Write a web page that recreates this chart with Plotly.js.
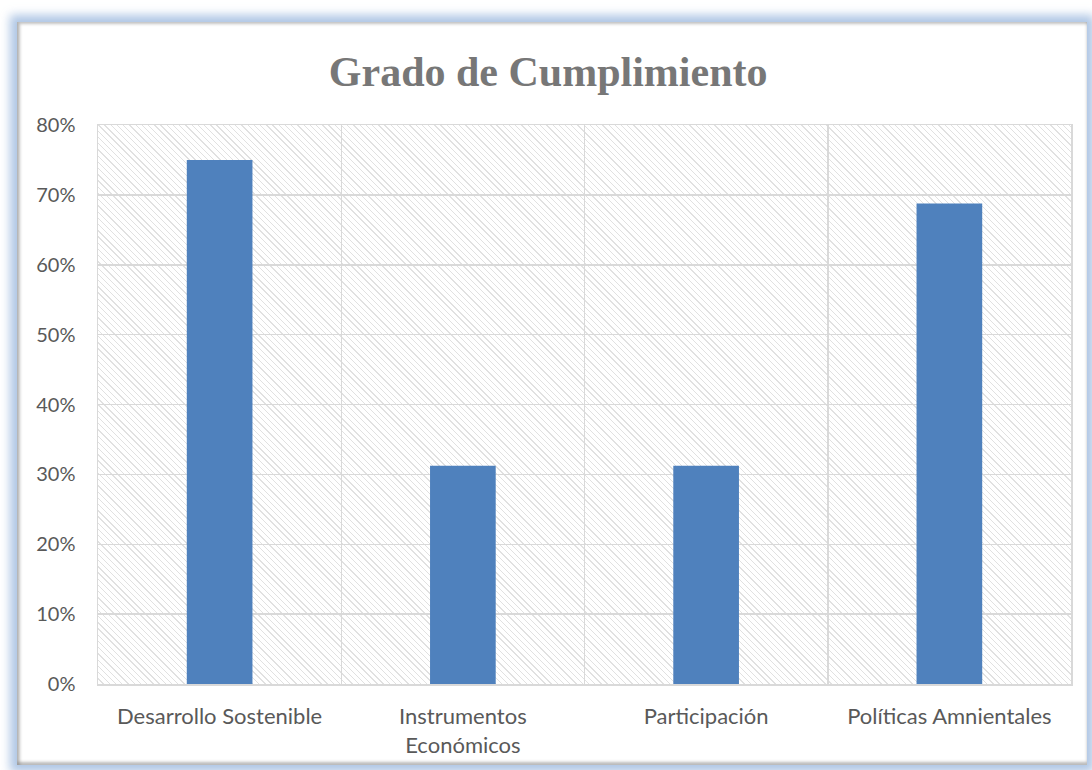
<!DOCTYPE html>
<html>
<head>
<meta charset="utf-8">
<script src="https://cdn.plot.ly/plotly-3.0.1.min.js"></script>
<style>
  html, body { margin: 0; padding: 0; background: #ffffff; width: 1092px; height: 770px; overflow: hidden; }
  #frame { position: absolute; left: 17px; top: 22px; width: 1070px; height: 743px;
           background: #ffffff;
           box-shadow: 0 0 9px 7px rgba(150,180,220,0.75), inset 3px 2px 3px rgba(120,120,120,0.45), inset 0 -3px 3px rgba(120,120,120,0.5); }
  #hatch { position: absolute;
           background: repeating-linear-gradient(45deg, #ffffff 0px, #ffffff 3.5px, #e1e1e1 3.5px, #e1e1e1 4.4px); }
  #chart { position: absolute; left: 0; top: 0; width: 1092px; height: 770px; }
</style>
</head>
<body>
<div id="frame"></div>
<div id="hatch"></div>
<div id="chart"></div>
<script>
const categories = ["Desarrollo Sostenible", "Instrumentos<br>Económicos", "Participación", "Políticas Amnientales"];
const values = [0.75, 0.3125, 0.3125, 0.6875];
const yTickVals = [0, 0.1, 0.2, 0.3, 0.4, 0.5, 0.6, 0.7, 0.8];
const yTickText = ["0%", "10%", "20%", "30%", "40%", "50%", "60%", "70%", "80%"];
const yMax = 0.8;

const W = 1092, H = 770;
const margin = { l: 98, r: 21, t: 125, b: 86 };

// hatched plot-area background sits behind the transparent plot area
const hatch = document.getElementById("hatch");
hatch.style.left = margin.l + "px";
hatch.style.top = margin.t + "px";
hatch.style.width = (W - margin.l - margin.r) + "px";
hatch.style.height = (H - margin.t - margin.b) + "px";

const bars = {
  type: "bar",
  x: categories,
  y: values,
  width: 0.27,
  marker: { color: "#4f81bd", line: { width: 0 } },
  showlegend: false
};

const layout = {
  width: W,
  height: H,
  margin: margin,
  paper_bgcolor: "rgba(0,0,0,0)",
  plot_bgcolor: "rgba(0,0,0,0)",
  title: {
    text: "<b>Grado de Cumplimiento</b>",
    font: { family: "Liberation Serif, DejaVu Serif, serif", size: 42, color: "#777777" },
    x: 0.502, xanchor: "center", y: 0.907, yanchor: "middle"
  },
  xaxis: {
    type: "category",
    tickson: "boundaries",
    showgrid: true,
    gridcolor: "#d9d9d9",
    gridwidth: 1.5,
    showline: true,
    linecolor: "#d9d9d9",
    linewidth: 1.5,
    mirror: true,
    ticks: "",
    tickfont: { family: "Lato, Liberation Sans, sans-serif", size: 22, color: "#595959" },
    ticklabelstandoff: 12
  },
  yaxis: {
    range: [0, yMax],
    tickvals: yTickVals,
    ticktext: yTickText,
    showgrid: true,
    gridcolor: "#d9d9d9",
    gridwidth: 1.5,
    showline: true,
    linecolor: "#d9d9d9",
    linewidth: 1.5,
    mirror: true,
    zeroline: false,
    ticks: "",
    tickfont: { family: "Lato, Liberation Sans, sans-serif", size: 20, color: "#595959" },
    ticklabelstandoff: 17
  }
};

Plotly.newPlot("chart", [bars], layout, { displayModeBar: false, staticPlot: true });
</script>
</body>
</html>
